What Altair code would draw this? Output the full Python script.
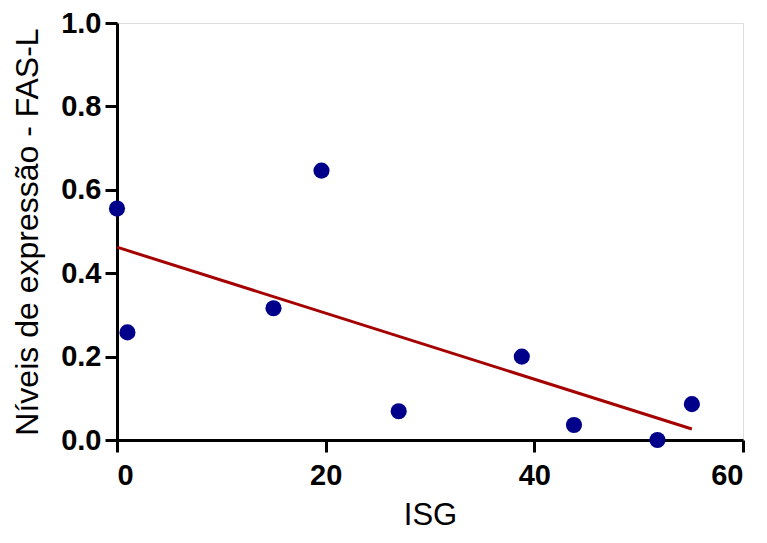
import altair as alt
import pandas as pd

isg = [0, 1, 15, 19.6, 27, 38.8, 43.8, 51.8, 55.1]
fasl = [0.555, 0.258, 0.316, 0.646, 0.069, 0.2, 0.036, 0.0, 0.086]

df = pd.DataFrame({"ISG": isg, "FASL": fasl})

xs = alt.Scale(domain=[0, 60], nice=False, zero=False)
ys = alt.Scale(domain=[0, 1.0], nice=False)

xaxis = alt.Axis(values=[0, 20, 40, 60], title="ISG", grid=False, domainWidth=3,
                 tickWidth=3, tickSize=12, domainColor="black", tickColor="black",
                 labelFont="Liberation Sans", labelFontWeight="bold", labelFontSize=29,
                 labelColor="black", labelPadding=9, titleFont="Liberation Sans",
                 titleFontWeight="normal", titleFontSize=31, titleColor="black",
                 titlePadding=10)
yaxis = alt.Axis(values=[0, 0.2, 0.4, 0.6, 0.8, 1.0], format=".1f",
                 title="Níveis de expressão - FAS-L", grid=False, domainWidth=3,
                 tickWidth=3, tickSize=12, domainColor="black", tickColor="black",
                 labelFont="Liberation Sans", labelFontWeight="bold", labelFontSize=29,
                 labelColor="black", labelPadding=4, titleFont="Liberation Sans",
                 titleFontWeight="normal", titleFontSize=32, titleColor="black",
                 titlePadding=16)

points = alt.Chart(df).mark_circle(size=260, color="#00008B", opacity=1).encode(
    x=alt.X("ISG:Q", scale=xs, axis=xaxis),
    y=alt.Y("FASL:Q", scale=ys, axis=yaxis),
)

line = alt.Chart(df).transform_regression("ISG", "FASL").mark_line(
    color="#A50000", strokeWidth=3
).encode(
    x=alt.X("ISG:Q", scale=xs),
    y=alt.Y("FASL:Q", scale=ys),
)

chart = alt.layer(line, points).properties(
    width=626, height=417,
    autosize=alt.AutoSizeParams(type="none"),
    padding={"left": 109, "top": 15, "right": 16, "bottom": 95},
).configure_view(stroke=None).configure(background="white")

chart.save("out.html", embed_options={"renderer": "svg", "actions": False})
